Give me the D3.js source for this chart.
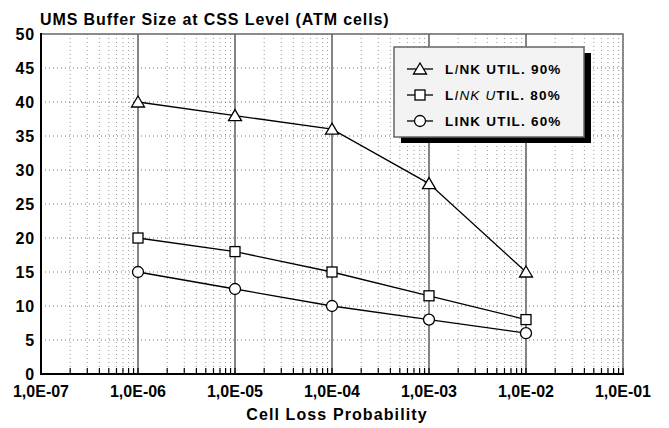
<!DOCTYPE html>
<meta charset="utf-8">
<script src="https://d3js.org/d3.v7.min.js"></script>
<style>
  body { margin: 0; background: #fff; }
  text { font-family: "Liberation Sans", Arial, sans-serif; font-weight: bold; }
</style>
<body>
<div id="chart"></div>
<script>
// data
var probs = [1e-6, 1e-5, 1e-4, 1e-3, 1e-2];
var util90 = [40, 38, 36, 28, 15];
var util80 = [20, 18, 15, 11.5, 8];
var util60 = [15, 12.5, 10, 8, 6];
var xTicks = [1e-7, 1e-6, 1e-5, 1e-4, 1e-3, 1e-2, 1e-1];
var xTickLabels = ["1,0E-07", "1,0E-06", "1,0E-05", "1,0E-04", "1,0E-03", "1,0E-02", "1,0E-01"];
var yTicks = [0, 5, 10, 15, 20, 25, 30, 35, 40, 45, 50];

var width = 669, height = 428;
var pL = 41, pR = 623, pT = 34, pB = 374;

var svg = d3.select("#chart").append("svg")
  .attr("width", width).attr("height", height);

var x = d3.scaleLog().domain([1e-7, 1e-1]).range([pL, pR]);
var y = d3.scaleLinear().domain([0, 50]).range([pB, pT]);

// minor decade positions 2..9
var minor = [];
for (var e = -7; e < -1; e++) {
  for (var k = 2; k <= 9; k++) minor.push(k * Math.pow(10, e));
}

// grid
svg.append("g").selectAll("line").data(minor).enter().append("line")
  .attr("x1", function(d) { return x(d); }).attr("x2", function(d) { return x(d); })
  .attr("y1", pT).attr("y2", pB)
  .attr("stroke", "#999").attr("stroke-width", 1).attr("stroke-dasharray", "1,3");
svg.append("g").selectAll("line").data(yTicks.slice(1, -1)).enter().append("line")
  .attr("x1", pL).attr("x2", pR)
  .attr("y1", function(d) { return y(d); }).attr("y2", function(d) { return y(d); })
  .attr("stroke", "#777").attr("stroke-width", 1).attr("stroke-dasharray", "1,3");
svg.append("g").selectAll("line").data(xTicks.slice(1, -1)).enter().append("line")
  .attr("x1", function(d) { return x(d); }).attr("x2", function(d) { return x(d); })
  .attr("y1", pT).attr("y2", pB)
  .attr("stroke", "#777").attr("stroke-width", 1.8);

// frame: grey top/right, black left/bottom
svg.append("path")
  .attr("d", "M" + pL + "," + pT + "H" + pR + "V" + pB)
  .attr("fill", "none").attr("stroke", "#666").attr("stroke-width", 1.5);
svg.append("path")
  .attr("d", "M" + pL + "," + (pT - 1) + "V" + pB + "H" + (pR + 1))
  .attr("fill", "none").attr("stroke", "#000").attr("stroke-width", 2);

// small ticks on the x axis
svg.append("g").selectAll("line").data(minor.concat(xTicks)).enter().append("line")
  .attr("x1", function(d) { return x(d); }).attr("x2", function(d) { return x(d); })
  .attr("y1", pB).attr("y2", pB - 6)
  .attr("stroke", "#000").attr("stroke-width", 1.2);

// tick labels
svg.append("g").selectAll("text").data(yTicks).enter().append("text")
  .attr("x", 35).attr("y", function(d) { return y(d) + 6; })
  .attr("text-anchor", "end").style("font-size", "16px").style("letter-spacing", "0.8px")
  .text(function(d) { return d; });
svg.append("g").selectAll("text").data(xTicks).enter().append("text")
  .attr("x", function(d) { return x(d); }).attr("y", 397)
  .attr("text-anchor", "middle").style("font-size", "16px")
  .text(function(d, i) { return xTickLabels[i]; });

svg.append("text").attr("x", 40).attr("y", 25)
  .style("font-size", "16px").style("letter-spacing", "0.9px")
  .text("UMS Buffer Size at CSS Level (ATM cells)");
svg.append("text").attr("x", 337).attr("y", 420)
  .attr("text-anchor", "middle").style("font-size", "16px").style("letter-spacing", "1.1px")
  .text("Cell Loss Probability");

// markers
function marker(g, kind, cx, cy) {
  if (kind == "tri") {
    g.append("path").attr("d", "M" + cx + "," + (cy - 6) + "L" + (cx + 6.5) + "," + (cy + 5) + "L" + (cx - 6.5) + "," + (cy + 5) + "Z")
      .attr("fill", "#fff").attr("stroke", "#000").attr("stroke-width", 1.3);
  } else if (kind == "sq") {
    g.append("rect").attr("x", cx - 5).attr("y", cy - 5).attr("width", 10).attr("height", 10)
      .attr("fill", "#fff").attr("stroke", "#000").attr("stroke-width", 1.3);
  } else {
    g.append("circle").attr("cx", cx).attr("cy", cy).attr("r", 5.5)
      .attr("fill", "#fff").attr("stroke", "#000").attr("stroke-width", 1.3);
  }
}

var series = [
  { vals: util90, kind: "tri" },
  { vals: util80, kind: "sq" },
  { vals: util60, kind: "circ" }
];
var line = d3.line()
  .x(function(d, i) { return x(probs[i]); })
  .y(function(d) { return y(d); });

series.forEach(function(s) {
  var g = svg.append("g");
  g.append("path").datum(s.vals).attr("d", line)
    .attr("fill", "none").attr("stroke", "#000").attr("stroke-width", 1.3);
  s.vals.forEach(function(v, i) { marker(g, s.kind, x(probs[i]), y(v)); });
});

// legend
var lg = svg.append("g");
lg.append("rect").attr("x", 401).attr("y", 53).attr("width", 190).attr("height", 90).attr("fill", "#000");
lg.append("rect").attr("x", 394).attr("y", 47).attr("width", 190).attr("height", 90)
  .attr("fill", "#f3f3f3").attr("stroke", "#666").attr("stroke-width", 1.5);
var legendRows = [
  { kind: "tri", parts: [["L", 0], ["I", 1], ["NK UTIL. 90%", 0]] },
  { kind: "sq", parts: [["L", 0], ["INK U", 1], ["TIL. 80%", 0]] },
  { kind: "circ", parts: [["LINK UTIL. 60%", 0]] }
];
legendRows.forEach(function(r, i) {
  var cy = 69 + i * 26;
  lg.append("line").attr("x1", 407).attr("x2", 433).attr("y1", cy).attr("y2", cy)
    .attr("stroke", "#000").attr("stroke-width", 1.3);
  marker(lg, r.kind, 420, cy);
  var t = lg.append("text").attr("x", 445).attr("y", cy + 5)
    .style("font-size", "13.5px").style("letter-spacing", "1.2px");
  r.parts.forEach(function(p) {
    t.append("tspan").text(p[0])
      .style("font-style", p[1] ? "italic" : "normal")
      .style("font-weight", p[1] ? "normal" : "bold");
  });
});
</script>
</body>
